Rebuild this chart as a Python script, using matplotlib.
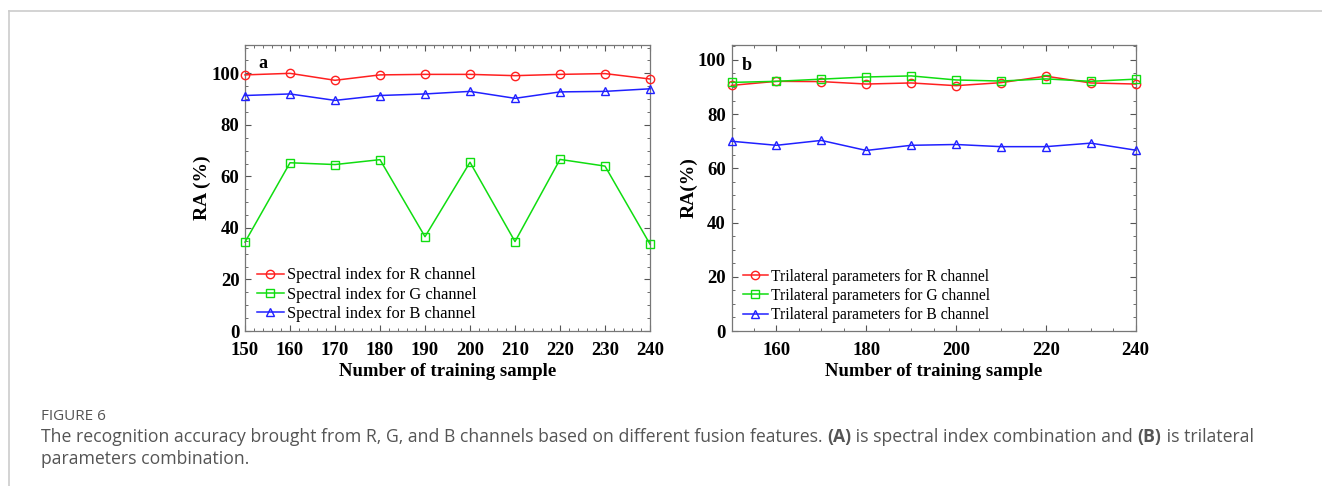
import matplotlib
matplotlib.use("Agg")
import matplotlib.pyplot as plt
from matplotlib.lines import Line2D
from matplotlib.ticker import MultipleLocator

# ---- data ----
samples = [150, 160, 170, 180, 190, 200, 210, 220, 230, 240]

spec_R = [99.4, 100.0, 97.3, 99.4, 99.6, 99.6, 99.1, 99.6, 99.9, 97.8]
spec_G = [34.5, 65.3, 64.6, 66.5, 36.6, 65.5, 34.7, 66.6, 64.0, 33.7]
spec_B = [91.4, 92.0, 89.5, 91.4, 92.0, 93.0, 90.3, 92.8, 93.0, 94.0]

tri_R = [90.6, 92.1, 92.0, 91.1, 91.5, 90.5, 91.6, 94.0, 91.5, 91.1]
tri_G = [91.7, 92.1, 92.9, 93.7, 94.1, 92.6, 92.2, 93.0, 92.1, 92.9]
tri_B = [70.0, 68.5, 70.3, 66.6, 68.5, 68.8, 68.0, 68.0, 69.3, 66.7]

labels_a = ["Spectral index for R channel", "Spectral index for G channel",
            "Spectral index for B channel"]
labels_b = ["Trilateral parameters for R channel", "Trilateral parameters for G channel",
            "Trilateral parameters for B channel"]

colors = ["#ff2020", "#10dd10", "#2020ff"]
markers = ["o", "s", "^"]

caption_title = "FIGURE 6"
caption_parts = [
    ("The recognition accuracy brought from R, G, and B channels based on different fusion features. ", "normal"),
    ("(A)", "bold"),
    (" is spectral index combination and ", "normal"),
    ("(B)", "bold"),
    (" is trilateral", "normal"),
]
caption_line2 = "parameters combination."

serif = ["Liberation Serif", "DejaVu Serif"]

W, H = 1322, 486
fig = plt.figure(figsize=(W / 100, H / 100), dpi=100)

def fx(px):
    return px / W

def fy(py):
    return 1 - py / H

def make_axes(left, right, top, bottom):
    return fig.add_axes([fx(left), fy(bottom), fx(right) - fx(left), fy(top) - fy(bottom)])

ax_a = make_axes(245, 650, 45, 331)
ax_b = make_axes(731.5, 1135.7, 45, 331)

def style(ax, xmaj, xmin, ylim):
    ax.set_ylim(0, ylim)
    ax.set_xlim(150, 240)
    ax.xaxis.set_major_locator(MultipleLocator(xmaj))
    ax.xaxis.set_minor_locator(MultipleLocator(xmin))
    ax.yaxis.set_major_locator(MultipleLocator(20))
    ax.yaxis.set_minor_locator(MultipleLocator(5))
    ax.tick_params(which="both", direction="in", top=True, right=True, color="#555555")
    ax.tick_params(which="major", length=4, width=0.8)
    ax.tick_params(which="minor", length=2, width=0.6)
    ax.tick_params(axis="both", labelsize=13.5)
    ax.tick_params(axis="x", pad=8)
    ax.tick_params(axis="y", pad=4)
    for lab in ax.get_xticklabels() + ax.get_yticklabels():
        lab.set_family(serif)
        lab.set_fontweight("bold")
    for sp in ax.spines.values():
        sp.set_color("#777777")
        sp.set_linewidth(0.9)
    ax.set_xlabel("Number of training sample", family=serif, fontsize=13.5,
                  fontweight="bold", labelpad=3)

def plot_series(ax, series, labels):
    for ys, c, m, lab in zip(series, colors, markers, labels):
        ax.plot(samples, ys, color=c, lw=1.1, marker=m, markersize=6,
                markerfacecolor="none", markeredgecolor=c, markeredgewidth=1.0,
                label=lab, clip_on=False, zorder=3)

plot_series(ax_a, [spec_R, spec_G, spec_B], labels_a)
plot_series(ax_b, [tri_R, tri_G, tri_B], labels_b)
style(ax_a, 10, 2, 111)
style(ax_b, 20, 5, 105.5)
ax_a.set_ylabel("RA (%)", family=serif, fontsize=14, fontweight="bold", labelpad=0)
ax_b.set_ylabel("RA(%)", family=serif, fontsize=14, fontweight="bold", labelpad=0)

for ax, anchor, fs in [(ax_a, (fx(256.5), fy(322)), 11.9), (ax_b, (fx(742.5), fy(323)), 11.2)]:
    ax.legend(loc="lower left", bbox_to_anchor=anchor, bbox_transform=fig.transFigure,
              frameon=False, prop={"family": serif, "size": fs},
              handlelength=1.65, handletextpad=0.2, labelspacing=0.2,
              borderaxespad=0, borderpad=0)

fig.text(fx(262.5), fy(63), "a", family=serif, fontsize=13, fontweight="bold",
         ha="center", va="center")
fig.text(fx(747), fy(65), "b", family=serif, fontsize=13, fontweight="bold",
         ha="center", va="center")

# frame lines
fig.add_artist(Line2D([fx(9), 1.0], [fy(11.5), fy(11.5)], color="#cccccc", lw=1.2))
fig.add_artist(Line2D([fx(9), fx(9)], [fy(11.5), 0], color="#cccccc", lw=1.2))

# caption
cap_font = ["Open Sans", "DejaVu Sans"]
fig.text(fx(41), fy(420), caption_title, family=cap_font, fontsize=11,
         color="#555555", va="baseline", ha="left")

fig.canvas.draw()
renderer = fig.canvas.get_renderer()
x = fx(41)
for txt, wt in caption_parts:
    t = fig.text(x, fy(441.5), txt, family=cap_font, fontsize=12.7, fontweight=wt,
                 color="#555555", va="baseline", ha="left")
    bb = t.get_window_extent(renderer=renderer)
    x += bb.width / W
fig.text(fx(41), fy(464), caption_line2, family=cap_font, fontsize=12.7,
         color="#555555", va="baseline", ha="left")

fig.savefig("out.png", dpi=100)
